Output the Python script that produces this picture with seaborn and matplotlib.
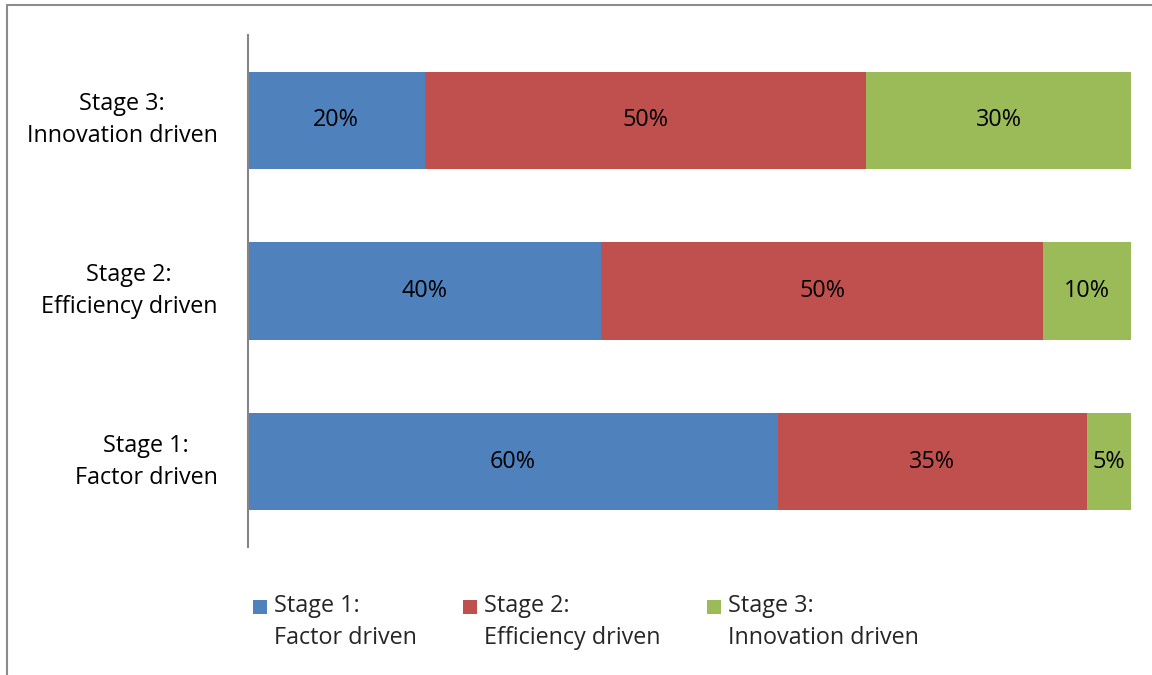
import matplotlib
matplotlib.use("Agg")
import matplotlib.pyplot as plt
from matplotlib.patches import Patch, Rectangle
from matplotlib.legend_handler import HandlerPatch
from matplotlib.lines import Line2D
import seaborn as sns
import pandas as pd
import numpy as np

# Economy stages (top to bottom) and share of each driver, in percent
stages = ["Stage 3:\nInnovation driven", "Stage 2:\nEfficiency driven", "Stage 1:\nFactor driven"]
factor_driven = [20, 40, 60]
efficiency_driven = [50, 50, 35]
innovation_driven = [30, 10, 5]

series_names = ["Stage 1:\nFactor driven", "Stage 2:\nEfficiency driven", "Stage 3:\nInnovation driven"]
series_colors = ["#4F81BD", "#C0504D", "#9BBB59"]

sns.set_theme(style="white")
plt.rcParams["font.family"] = ["Open Sans", "DejaVu Sans"]
FS = 16.8
LS = 1.45

values = np.array([factor_driven, efficiency_driven, innovation_driven], dtype=float)
cumulative = values.cumsum(axis=0)

fig = plt.figure(figsize=(11.52, 6.75), dpi=100)
ax = fig.add_axes([248 / 1152, 1 - 547 / 675, (1131 - 248) / 1152, 512 / 675])

# Stacked bars: draw cumulative totals from the outermost segment inward
for i in range(len(series_names) - 1, -1, -1):
    df = pd.DataFrame({"stage": stages, "total": cumulative[i]})
    sns.barplot(data=df, x="total", y="stage", order=stages, color=series_colors[i],
                saturation=1, width=0.57, ax=ax, linewidth=0)

# Segment value labels
for i in range(len(series_names)):
    for j in range(len(stages)):
        center = cumulative[i, j] - values[i, j] / 2
        ax.text(center, j, f"{values[i, j]:.0f}%", ha="center", va="center",
                fontsize=FS, color="black")

ax.set_xlim(0, 100)
ax.set_ylim(2.5, -0.5)
ax.set_xlabel("")
ax.set_ylabel("")
ax.set_xticks([])
ax.tick_params(axis="y", length=0, pad=22, labelsize=FS, labelcolor="black")
for lbl in ax.get_yticklabels():
    lbl.set_multialignment("center")
    lbl.set_linespacing(LS)
    lbl.set_verticalalignment("center")
for side in ["top", "right", "bottom"]:
    ax.spines[side].set_visible(False)
ax.spines["left"].set_color("#868686")
ax.spines["left"].set_linewidth(1.5)


def top_square(legend, orig_handle, xdescent, ydescent, width, height, fontsize):
    s = 0.6 * fontsize
    return Rectangle((-xdescent, -ydescent + height - s + 0.05 * fontsize), s, s)


handles = [Patch(facecolor=c, edgecolor="none") for c in series_colors]
leg = fig.legend(handles, series_names, loc="upper center", bbox_to_anchor=(586 / 1152, 1 - 573 / 675),
                 ncol=3, frameon=False, fontsize=FS, handlelength=0.6, handleheight=2.6,
                 handletextpad=0.28, columnspacing=2.0,
                 handler_map={Patch: HandlerPatch(patch_func=top_square)})
for t in leg.get_texts():
    t.set_linespacing(LS)

# Chart area frame
fig.add_artist(Line2D([7 / 1152, 1.0], [1 - 5 / 675, 1 - 5 / 675], transform=fig.transFigure,
                      color="#8C8C8C", linewidth=1.5))
fig.add_artist(Line2D([7 / 1152, 7 / 1152], [0, 1 - 5 / 675], transform=fig.transFigure,
                      color="#8C8C8C", linewidth=1.5))

fig.savefig("out.png", dpi=100)
